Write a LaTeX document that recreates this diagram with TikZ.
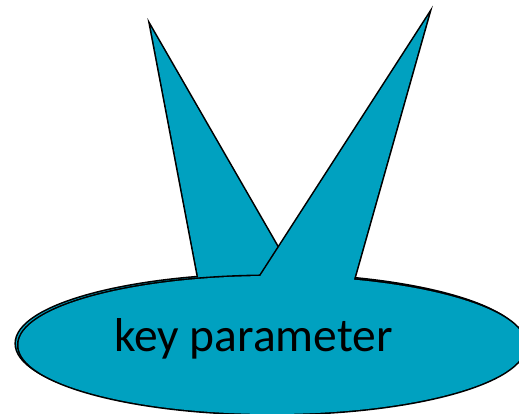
\documentclass[tikz,border=0pt]{standalone}
\usepackage{fontspec}
\setmainfont{Carlito}
\usepackage{xcolor}
\usetikzlibrary{positioning,calc}
\definecolor{callteal}{RGB}{0,161,192}
\tikzset{
    calloutline/.style={draw=black, line width=3.2pt, fill=callteal, line join=miter},
    calloutfill/.style={fill=callteal}
}

\begin{document}
\begin{tikzpicture}[x=1pt, y=-1pt]
    \useasboundingbox (0,0) rectangle (519,413);
    \coordinate (tipA) at (150.7,27);
    \coordinate (tipB) at (428.4,15.5);
    \coordinate (cA) at (269.5,343.5);
    \coordinate (cB) at (272,345);

    \path[calloutline] (cA) ellipse [x radius=253.5pt, y radius=69pt];
    \path[calloutline] (tipA) -- (308,300) -- (206.4,320) -- cycle;
    \fill[calloutfill] (cA) ellipse [x radius=253.5pt, y radius=69pt];
    \fill[calloutfill] (tipA) -- (308,300) -- (206.4,320) -- cycle;

    \path[calloutline] (cB) ellipse [x radius=253.5pt, y radius=69pt];
    \path[calloutline] (tipB) -- (235.2,315) -- (343.8,315) -- cycle;
    \fill[calloutfill] (cB) ellipse [x radius=253.5pt, y radius=69pt];
    \fill[calloutfill] (tipB) -- (235.2,315) -- (343.8,315) -- cycle;

    \node[anchor=base, inner sep=0pt, font=\fontsize{47.5}{54}\selectfont] (label) at (253.5,351) {key parameter};
\end{tikzpicture}
\end{document}
